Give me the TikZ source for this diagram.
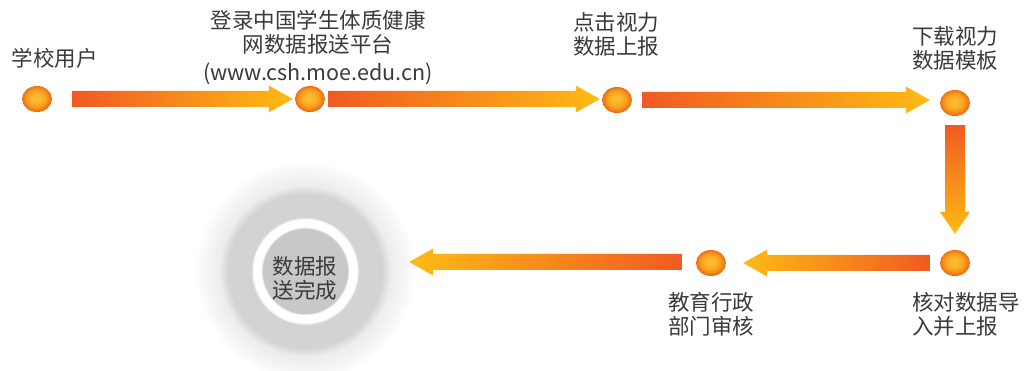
\documentclass[tikz,border=0pt]{standalone}
\usepackage{fontspec}
\newfontfamily\cjk{Noto Sans CJK SC}
\usetikzlibrary{calc,shapes.geometric}
\definecolor{arO}{HTML}{F15A22}
\definecolor{arY}{HTML}{FDBB14}
\definecolor{txt}{HTML}{3A3A3A}
\definecolor{diskC}{HTML}{CAC7CB}
\definecolor{ringC}{HTML}{D5D2D6}
\definecolor{haloC}{HTML}{EEECEE}
\definecolor{haloD}{HTML}{F6F5F6}
\definecolor{dotIn}{HTML}{FDBA2C}
\definecolor{dotMid}{HTML}{F8A020}
\definecolor{dotOut}{HTML}{EC6A14}
\pgfdeclareradialshading{dotshade}{\pgfpoint{-1.5bp}{2.5bp}}{color(0bp)=(dotIn); color(6bp)=(dotIn); color(16bp)=(dotMid); color(25bp)=(dotOut); color(50bp)=(dotOut)}
\pgfdeclareradialshading{target}{\pgfpoint{0bp}{0bp}}{color(0bp)=(diskC); color(9.6bp)=(diskC); color(10bp)=(white); color(11.8bp)=(white); color(12.2bp)=(ringC); color(17.5bp)=(ringC); color(19.5bp)=(haloC); color(22.5bp)=(haloD); color(25bp)=(white); color(50bp)=(white)}
\newcommand\flowR[3]{\path[#3] let \p1=(#1), \p2=(#2) in ({\x1},{\y1+8pt}) -- ({\x2-24pt},{\y1+8pt}) -- ({\x2-24pt},{\y1+13.5pt}) -- ({\x2},{\y1}) -- ({\x2-24pt},{\y1-13.5pt}) -- ({\x2-24pt},{\y1-8pt}) -- ({\x1},{\y1-8pt}) -- cycle;}
\newcommand\flowL[3]{\path[#3] let \p1=(#1), \p2=(#2) in ({\x1},{\y1+8pt}) -- ({\x2+24pt},{\y1+8pt}) -- ({\x2+24pt},{\y1+13.5pt}) -- ({\x2},{\y1}) -- ({\x2+24pt},{\y1-13.5pt}) -- ({\x2+24pt},{\y1-8pt}) -- ({\x1},{\y1-8pt}) -- cycle;}
\newcommand\flowD[3]{\path[#3] let \p1=(#1), \p2=(#2) in ({\x1+10pt},{\y1}) -- ({\x1+10pt},{\y2+22pt}) -- ({\x1+15pt},{\y2+22pt}) -- ({\x1},{\y2}) -- ({\x1-15pt},{\y2+22pt}) -- ({\x1-10pt},{\y2+22pt}) -- ({\x1-10pt},{\y1}) -- cycle;}
\begin{document}
\begin{tikzpicture}[x=1pt,y=-1pt,
  lbl/.style={font=\cjk\fontsize{21.5}{24}\selectfont, text=txt, inner sep=0pt, align=center},
  dotnode/.style={ellipse, minimum width=30pt, minimum height=26pt, inner sep=0pt, shade, shading=dotshade},
  toright/.style={left color=arO, right color=arY},
  toleft/.style={left color=arY, right color=arO},
  todown/.style={top color=arO, bottom color=arY}]
\useasboundingbox[fill=white] (0,0) rectangle (1028,371);
% target
\node (done) [circle, minimum size=220pt, inner sep=0pt, shade, shading=target] at (305,271) {};
\node (l7) [lbl] at (305,278) {数据报\\送完成};
% dots
\node (d1) [dotnode] at (37,99) {};
\node (d2) [dotnode] at (310,99) {};
\node (d3) [dotnode] at (617,100) {};
\node (d4) [dotnode] at (955,103) {};
\node (d5) [dotnode] at (955,263) {};
\node (d6) [dotnode] at (711,263) {};
% labels
\node (l1) [lbl] at (55,58) {学校用户};
\node (l2) [lbl] at (318,47) {登录中国学生体质健康\\网数据报送平台\\[4pt](www.csh.moe.edu.cn)};
\node (l3) [lbl] at (616,34) {点击视力\\数据上报};
\node (l4) [lbl] at (955,48) {下载视力\\数据模板};
\node (l5) [lbl, anchor=west, align=left] at (912,314) {核对数据导\\入并上报};
\node (l6) [lbl] at (711,314) {教育行政\\部门审核};
% arrows
\coordinate (a1s) at ($(d1.east)+(20,0)$);
\coordinate (a1e) at ($(d2.west)+(-2,0)$);
\coordinate (a2s) at ($(d2.east)+(3,0)$);
\coordinate (a2e) at ($(d3.west)+(-2,0)$);
\coordinate (a3s) at ($(d3.east)+(10,0)$);
\coordinate (a3e) at ($(d4.west)+(-10,0)$);
\coordinate (a4s) at ($(d4.south)+(0,9)$);
\coordinate (a4e) at ($(d5.north)+(0,-16)$);
\coordinate (a5s) at ($(d5.west)+(-10,0)$);
\coordinate (a5e) at ($(d6.east)+(17,0)$);
\coordinate (a6s) at ($(d6.west)+(-14,-1)$);
\coordinate (a6e) at ($(done.east)+(-6,0)$);
\flowR{a1s}{a1e}{toright}
\flowR{a2s}{a2e}{toright}
\flowR{a3s}{a3e}{toright}
\flowD{a4s}{a4e}{todown}
\flowL{a5s}{a5e}{toleft}
\flowL{a6s}{a6e}{toleft}
\end{tikzpicture}
\end{document}
